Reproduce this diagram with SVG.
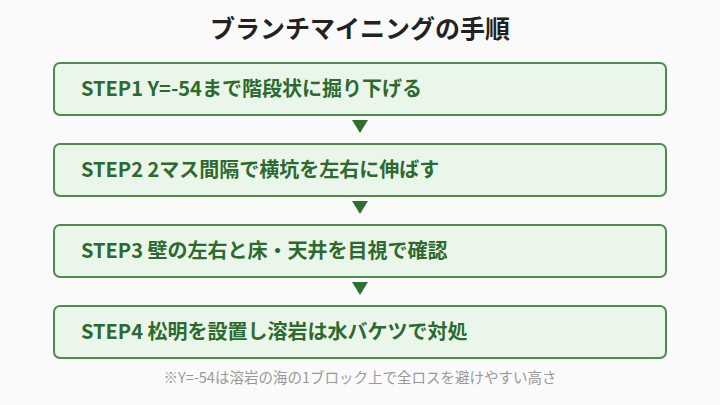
<svg xmlns="http://www.w3.org/2000/svg" width="720" height="405" viewBox="0 0 720 405">
<style>
.box{fill:#ebf6ea;stroke:#4f8a4f;stroke-width:2}
.lbl{font-family:"Noto Sans CJK JP","Noto Sans",sans-serif;font-weight:700;font-size:20px;fill:#2d6a2f}
.arr{fill:#2f7032}
.title{font-family:"Noto Sans CJK JP","Noto Sans",sans-serif;font-weight:700;font-size:25px;fill:#222}
.note{font-family:"Noto Sans CJK JP","Noto Sans",sans-serif;font-size:14.5px;fill:#999}
</style>
<rect width="720" height="405" fill="#fafafa"/>
<text class="title" x="360" y="38" text-anchor="middle">ブランチマイニングの手順</text>
<g id="connectors">
<polygon class="arr" points="352,120 368,120 360,133"/>
<polygon class="arr" points="352,201 368,201 360,214"/>
<polygon class="arr" points="352,282 368,282 360,295"/>
</g>
<g id="step1"><rect class="box" x="54" y="63" width="612" height="52" rx="6"/><text class="lbl" x="81" y="96">STEP1 Y=-54まで階段状に掘り下げる</text></g>
<g id="step2"><rect class="box" x="54" y="144" width="612" height="52" rx="6"/><text class="lbl" x="81" y="177">STEP2 2マス間隔で横坑を左右に伸ばす</text></g>
<g id="step3"><rect class="box" x="54" y="225" width="612" height="52" rx="6"/><text class="lbl" x="81" y="258">STEP3 壁の左右と床・天井を目視で確認</text></g>
<g id="step4"><rect class="box" x="54" y="306" width="612" height="52" rx="6"/><text class="lbl" x="81" y="339">STEP4 松明を設置し溶岩は水バケツで対処</text></g>
<text class="note" x="360" y="383" text-anchor="middle">※Y=-54は溶岩の海の1ブロック上で全ロスを避けやすい高さ</text>
</svg>
